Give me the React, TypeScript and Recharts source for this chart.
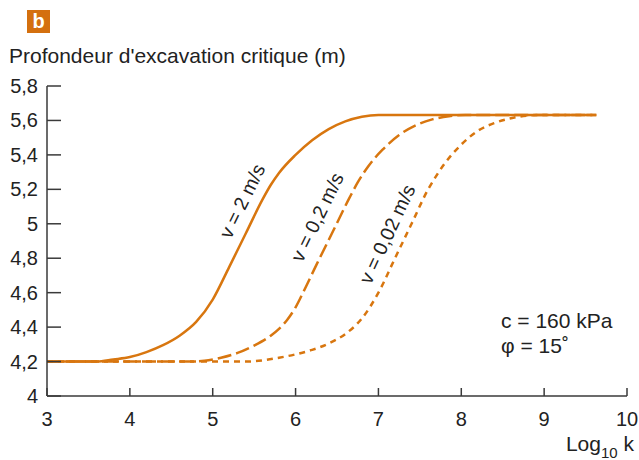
import React from "react";
import { LineChart, Line, XAxis, YAxis } from "recharts";

// Critical excavation depth (m) vs log10 of permeability k, for three velocities
const xTicks = [3, 4, 5, 6, 7, 8, 9, 10];
const yTicks = [4, 4.2, 4.4, 4.6, 4.8, 5, 5.2, 5.4, 5.6, 5.8];

// v = 2 m/s
const v2Log = [3, 3.6, 3.8, 4.0, 4.2, 4.4, 4.6, 4.8, 5.0, 5.2, 5.4, 5.6, 5.7, 5.8, 6.0, 6.2, 6.4, 6.6, 6.8, 7.0, 9.63];
const v2Depth = [4.2, 4.2, 4.212, 4.226, 4.255, 4.295, 4.35, 4.43, 4.56, 4.75, 4.945, 5.14, 5.225, 5.295, 5.4, 5.485, 5.55, 5.595, 5.622, 5.632, 5.632];

// v = 0,2 m/s
const v02Log = [3, 4.7, 4.9, 5.1, 5.3, 5.5, 5.7, 5.8, 5.9, 6.0, 6.1, 6.25, 6.45, 6.65, 6.75, 6.85, 6.95, 7.05, 7.25, 7.45, 7.65, 7.85, 8.05, 9.63];
const v02Depth = [4.2, 4.2, 4.205, 4.222, 4.25, 4.293, 4.35, 4.39, 4.443, 4.515, 4.61, 4.76, 4.955, 5.15, 5.24, 5.315, 5.378, 5.43, 5.515, 5.572, 5.606, 5.625, 5.632, 5.632];

// v = 0,02 m/s
const v002Log = [3, 5.4, 5.6, 5.8, 6.0, 6.2, 6.4, 6.6, 6.8, 7.0, 7.2, 7.4, 7.6, 7.7, 7.8, 8.0, 8.2, 8.4, 8.6, 8.8, 9.0, 9.63];
const v002Depth = [4.2, 4.2, 4.207, 4.222, 4.242, 4.268, 4.305, 4.36, 4.45, 4.6, 4.8, 5.0, 5.2, 5.28, 5.35, 5.46, 5.54, 5.585, 5.613, 5.628, 5.632, 5.632];

const toRows = (xs: number[], ys: number[]) => xs.map((x, i) => ({ x, y: ys[i] }));

const ORANGE = "#d8760f";
const INK = "#222";
const AXIS = "#3a3a3a";
const FONT = "'Liberation Sans', Arial, Helvetica, sans-serif";

const fmt = (v: number) => String(v).replace(".", ",");

const YTick = (props: any) => {
  const { x, y, payload } = props;
  return (
    <g>
      <line x1={x} x2={x + 14} y1={y} y2={y} stroke={AXIS} strokeWidth={1.5} />
      <text x={x - 9} y={y} dy={7} textAnchor="end" fontSize={20} fill={INK} fontFamily={FONT}>
        {fmt(payload.value)}
      </text>
    </g>
  );
};

const XTick = (props: any) => {
  const { x, y, payload } = props;
  return (
    <g>
      <line x1={x} x2={x} y1={y} y2={y - 8} stroke={AXIS} strokeWidth={1.5} />
      <text x={x} y={y} dy={30} textAnchor="middle" fontSize={20} fill={INK} fontFamily={FONT}>
        {payload.value}
      </text>
    </g>
  );
};

export default function App() {
  return (
    <div style={{ position: "absolute", left: 0, top: 0, width: 639, height: 460, background: "#fff" }}>
      <LineChart
        width={639}
        height={460}
        margin={{ top: 86, right: 12, bottom: 34, left: 7 }}
      >
        <XAxis
          type="number"
          dataKey="x"
          domain={[3, 10]}
          ticks={xTicks}
          allowDataOverflow
          height={30}
          tickSize={0}
          tickMargin={0}
          tickLine={false}
          tick={<XTick />}
          axisLine={{ stroke: AXIS, strokeWidth: 1.5 }}
        />
        <YAxis
          type="number"
          dataKey="y"
          domain={[4, 5.8]}
          ticks={yTicks}
          allowDataOverflow
          width={40}
          tickSize={0}
          tickMargin={0}
          tickLine={false}
          tick={<YTick />}
          axisLine={{ stroke: AXIS, strokeWidth: 1.5 }}
        />
        <Line
          data={toRows(v002Log, v002Depth)}
          dataKey="y"
          type="monotone"
          stroke={ORANGE}
          strokeWidth={2.5}
          strokeDasharray="6 5"
          dot={false}
          isAnimationActive={false}
        />
        <Line
          data={toRows(v02Log, v02Depth)}
          dataKey="y"
          type="monotone"
          stroke={ORANGE}
          strokeWidth={2.5}
          strokeDasharray="14 5"
          dot={false}
          isAnimationActive={false}
        />
        <Line
          data={toRows(v2Log, v2Depth)}
          dataKey="y"
          type="monotone"
          stroke={ORANGE}
          strokeWidth={2.5}
          dot={false}
          isAnimationActive={false}
        />
      </LineChart>
      <svg
        width={639}
        height={460}
        style={{ position: "absolute", left: 0, top: 0, pointerEvents: "none" }}
        fontFamily={FONT}
      >
        <rect x={27} y={10} width={23} height={23} fill="#d4700f" />
        <text x={38.5} y={28} textAnchor="middle" fontSize={20} fontWeight="bold" fill="#fff">
          b
        </text>
        <text x={9} y={63} fontSize={21} fill={INK}>
          Profondeur d'excavation critique (m)
        </text>
        <text x={634} y={451} textAnchor="end" fontSize={21} fill={INK}>
          Log<tspan fontSize={15} dy={7}>10</tspan>
          <tspan dy={-7}> k</tspan>
        </text>
        <text x={501} y={328} fontSize={21} fill={INK}>
          c = 160 kPa
        </text>
        <text x={501} y={353} fontSize={21} fill={INK}>
          φ = 15˚
        </text>
        <text x={242} y={201} dy={7} textAnchor="middle" fontSize={19.5} fill={INK} transform="rotate(-64 242 201)">
          v = 2 m/s
        </text>
        <text x={317} y={217} dy={7} textAnchor="middle" fontSize={19.5} fill={INK} transform="rotate(-64 317 217)">
          v = 0,2 m/s
        </text>
        <text x={387} y={234} dy={7} textAnchor="middle" fontSize={19.5} fill={INK} transform="rotate(-65 387 234)">
          v = 0,02 m/s
        </text>
      </svg>
    </div>
  );
}
